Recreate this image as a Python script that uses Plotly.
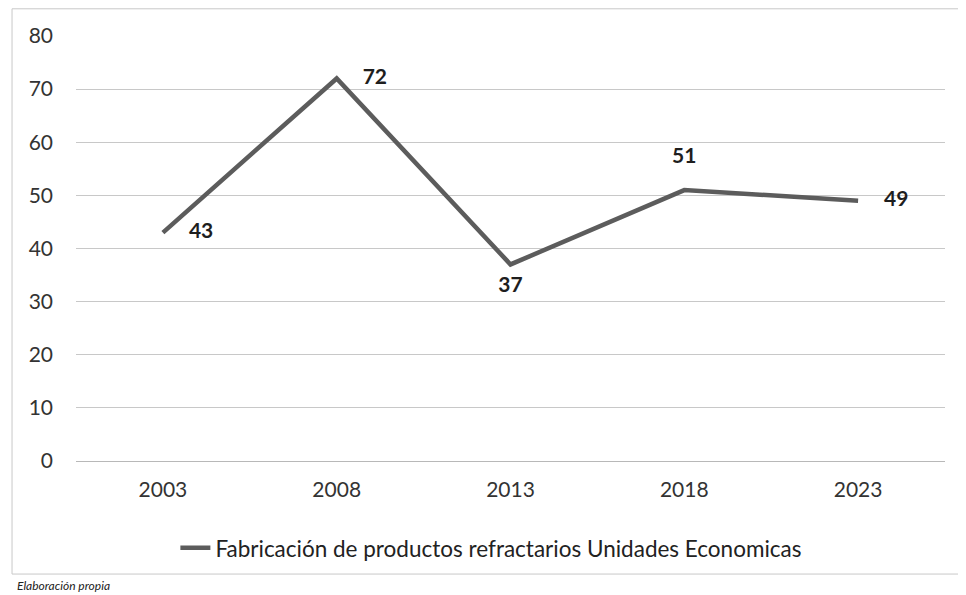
import plotly.graph_objects as go

years = ["2003", "2008", "2013", "2018", "2023"]
unidades = [43, 72, 37, 51, 49]
label_pos = ["middle right", "middle right", "bottom center", "top center", "middle right"]
label_gap = [40, 40, 18, 34, 40]
y_ticks = [0, 10, 20, 30, 40, 50, 60, 70, 80]
series_name = "Fabricación de productos refractarios Unidades Economicas"

FONT = "Lato, 'Open Sans', sans-serif"

fig = go.Figure()
fig.add_trace(go.Scatter(
    x=years, y=unidades, name=series_name,
    mode="lines+markers+text",
    line=dict(color="#5c5c5c", width=4.5),
    marker=dict(size=label_gap, color="rgba(0,0,0,0)", line=dict(width=0, color="rgba(0,0,0,0)")),
    text=[str(v) for v in unidades],
    textposition=label_pos,
    textfont=dict(family=FONT, size=21, color="#1e1e1e", weight="bold"),
    cliponaxis=False,
))

fig.update_layout(
    width=966, height=595,
    margin=dict(l=68, r=29, t=28, b=142),
    paper_bgcolor="white", plot_bgcolor="white",
    font=dict(family=FONT, size=21, color="#333333"),
    showlegend=True,
    legend=dict(orientation="h", x=0.478, xanchor="center", y=-0.205, yanchor="middle",
                font=dict(size=22.5, color="#222222")),
    xaxis=dict(type="category", range=[-0.5, 4.5], showgrid=False, showline=False,
               zeroline=False, ticks="", ticklabelstandoff=14,
               tickfont=dict(size=21, color="#333333")),
    yaxis=dict(range=[0, 80], tickvals=y_ticks, showgrid=True, gridcolor="#c8c8c8",
               gridwidth=1, zeroline=True, zerolinecolor="#b8b8b8", zerolinewidth=1.2,
               showline=False, ticks="", ticklabelstandoff=22,
               tickfont=dict(size=21, color="#333333")),
    shapes=[dict(type="rect", xref="paper", yref="paper",
                 x0=-0.0736, x1=1.017, y0=-0.266, y1=1.064,
                 line=dict(color="#c8c8c8", width=1), fillcolor="rgba(0,0,0,0)", layer="below")],
    annotations=[dict(text="<i>Elaboración propia</i>", xref="paper", yref="paper",
                      x=-0.07, y=-0.271, xanchor="left", yanchor="top", showarrow=False,
                      font=dict(size=12, color="#222222"))],
)

fig.write_html("out.html")
